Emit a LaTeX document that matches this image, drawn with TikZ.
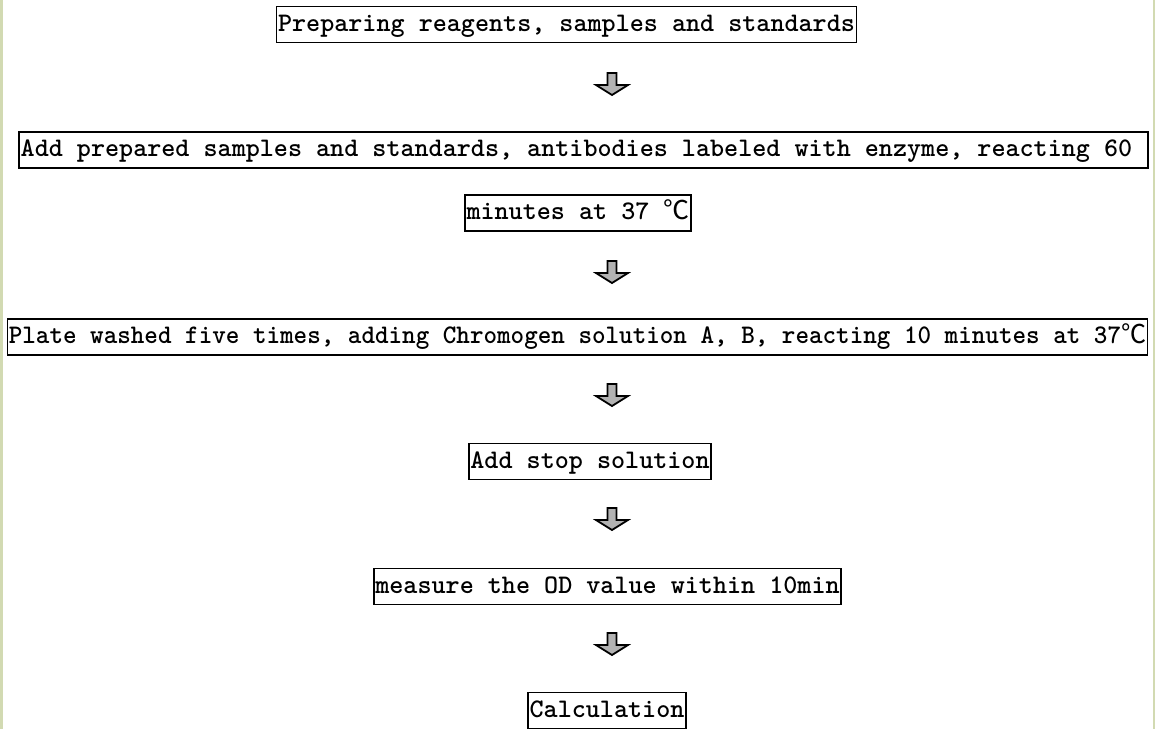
\documentclass[tikz,border=0pt]{standalone}
\usepackage{fontspec}
\newfontfamily\cjk{Noto Sans CJK SC}
\newcommand{\degC}{{\cjk\mdseries\fontsize{26}{30}\selectfont ℃}}
\definecolor{edgegreen}{RGB}{210,218,178}
\tikzset{
    stepbox/.style={draw, line width=1.6pt, inner xsep=1.5pt, inner ysep=0pt,
        minimum height=36pt, text height=19pt, text depth=6pt,
        font=\ttfamily\bfseries\fontsize{26.8}{30}\selectfont},
    downarrow/.style={draw=black, line width=1.8pt, fill=gray!60, line join=miter}
}

\begin{document}
\begin{tikzpicture}[x=1pt, y=-1pt]
    \useasboundingbox (0,0) rectangle (1155,729);
    \fill[edgegreen] (0,0) rectangle (2.5,729);
    \fill[edgegreen] (1152.5,0) rectangle (1155,729);
    % steps
    \node[stepbox] (prep) at (566.5,24.5) {Preparing reagents, samples and standards};
    \node[stepbox] (addsamp) at (583.5,150) {Add prepared samples and standards, antibodies labeled with enzyme, reacting 60\phantom{0}};
    \node[stepbox] (addmin) at (578,213) {minutes at 37 \degC};
    \node[stepbox] (wash) at (577.5,337) {\scalebox{0.964}[1]{Plate washed five times, adding Chromogen solution A, B, reacting 10 minutes at 37\degC}};
    \node[stepbox] (stop) at (590,461.5) {Add stop solution};
    \node[stepbox] (measure) at (607.5,586.5) {measure the OD value within 10min};
    \node[stepbox] (calc) at (607,710.5) {Calculation};
    % block arrows
    \foreach \y in {73, 261, 384, 508, 633}
        \draw[downarrow, shift={(612,\y)}] (-4.5,0) -- (4.5,0) -- (4.5,12) -- (16,12)
            -- (0,22) -- (-16,12) -- (-4.5,12) -- cycle;
\end{tikzpicture}
\end{document}
